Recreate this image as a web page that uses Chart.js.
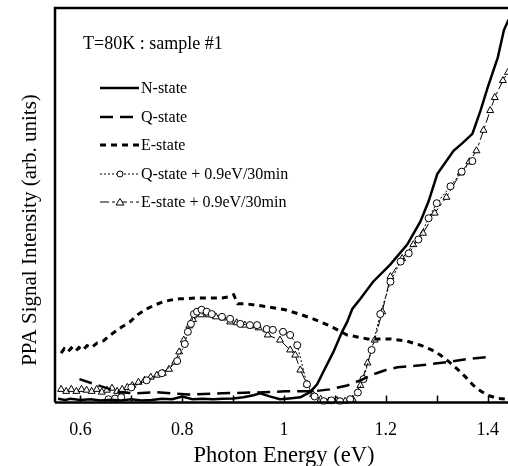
<!DOCTYPE html>
<html>
<head>
<meta charset="utf-8">
<script src="https://cdn.jsdelivr.net/npm/chart.js@4/dist/chart.umd.min.js"></script>
<style>
html,body{margin:0;padding:0;background:#fff;}
#c{display:block;}
</style>
</head>
<body>
<canvas id="c" width="508" height="466"></canvas>
<script>
// ---- data ----
const xTickValues = [0.6, 0.7, 0.8, 0.9, 1.0, 1.1, 1.2, 1.3, 1.4];
const xTickLabels = {"0.6":"0.6","0.8":"0.8","1":"1","1.2":"1.2","1.4":"1.4"};
const seriesNames = ["N-state","Q-state","E-state","Q-state + 0.9eV/30min","E-state + 0.9eV/30min"];

const nStateE = [0.556,0.57,0.58,0.60,0.62,0.64,0.66,0.68,0.70,0.72,0.74,0.76,0.78,0.80,0.82,0.84,0.86,0.88,0.90,0.92,0.94,0.953,0.97,0.992,1.01,1.032,1.051,1.065,1.077,1.097,1.114,1.124,1.134,1.150,1.175,1.209,1.242,1.268,1.284,1.301,1.333,1.351,1.370,1.386,1.400,1.420,1.432,1.441];
const nStateV = [0.9,0.6,0.9,0.6,0.8,0.5,0.7,0.5,0.8,0.5,0.6,0.9,0.8,1.5,0.8,0.9,0.8,0.9,1.0,1.3,1.8,2.3,1.6,0.8,1.0,1.3,2.6,4.6,7.7,12.8,17.9,20.4,23.7,26.3,30.6,35.0,40.0,45.9,51.0,57.9,63.8,65.8,68.1,74.0,79.8,87.5,94.4,97.0];

const qStateE = [0.598,0.647,0.677,0.706,0.746,0.811,0.878,0.94,1.002,1.057,1.09,1.124,1.150,1.175,1.200,1.223,1.268,1.321,1.361,1.400];
const qStateV = [5.9,3.8,2.6,2.3,2.6,2.0,2.3,2.5,2.8,2.8,3.3,4.3,5.6,7.1,8.2,8.9,9.4,10.2,11.0,11.5];

const eStateE = [0.562,0.568,0.575,0.582,0.590,0.597,0.605,0.613,0.622,0.633,0.645,0.661,0.681,0.697,0.712,0.730,0.746,0.762,0.779,0.795,0.811,0.828,0.844,0.861,0.878,0.894,0.901,0.909,0.925,0.943,0.970,1.002,1.030,1.057,1.090,1.124,1.164,1.190,1.209,1.240,1.268,1.290,1.307,1.325,1.341,1.357,1.372,1.387,1.400,1.420,1.439];
const eStateV = [12.5,13.6,12.8,13.8,12.9,13.9,13.2,14.4,13.9,15.1,15.6,17.3,19.1,20.4,22.2,23.7,24.7,25.5,26.0,26.3,26.3,26.5,26.5,26.5,26.5,26.8,27.3,25.0,25.0,24.7,24.2,23.5,22.4,21.2,19.4,17.1,16.1,16.1,16.1,15.6,14.5,13.3,12.0,10.2,8.4,6.4,4.3,2.8,1.8,1.0,0.8];

const qPlusE = [0.655,0.668,0.680,0.700,0.730,0.760,0.790,0.805,0.811,0.817,0.823,0.829,0.838,0.848,0.858,0.878,0.894,0.914,0.933,0.947,0.966,0.978,0.998,1.012,1.026,1.045,1.060,1.078,1.093,1.110,1.130,1.145,1.156,1.172,1.189,1.209,1.229,1.245,1.264,1.284,1.300,1.327,1.349,1.370];
const qPlusV = [0.8,1.0,1.3,3.8,5.6,7.4,10.5,14.8,17.9,19.9,22.4,23.0,23.5,23.0,22.4,21.7,21.2,19.9,19.6,19.6,18.6,18.4,17.9,17.1,14.5,4.6,1.5,0.3,0.5,0.3,0.8,2.5,5.9,13.3,22.4,30.6,35.7,37.8,41.3,46.7,50.5,54.8,58.5,61.2];

const ePlusE = [0.562,0.572,0.582,0.592,0.602,0.612,0.622,0.632,0.642,0.652,0.662,0.672,0.682,0.692,0.702,0.714,0.726,0.738,0.750,0.762,0.774,0.786,0.794,0.803,0.814,0.821,0.837,0.852,0.866,0.880,0.894,0.907,0.923,0.935,0.950,0.968,0.992,1.012,1.022,1.032,1.045,1.057,1.072,1.088,1.104,1.120,1.135,1.150,1.164,1.178,1.193,1.209,1.232,1.254,1.273,1.296,1.319,1.347,1.364,1.378,1.392,1.405,1.414,1.430,1.440];
const ePlusV = [3.3,2.8,3.3,2.8,3.3,3.1,2.8,3.3,2.6,3.1,3.6,2.8,3.3,3.8,4.3,5.1,5.6,6.4,6.9,7.4,8.4,10.2,12.8,15.8,19.4,21.0,22.2,22.2,21.7,21.4,20.4,20.2,19.6,19.4,18.9,17.1,15.8,13.3,12.0,8.2,4.6,2.0,0.8,0.3,0.5,0.3,0.8,4.3,10.0,15.8,23.0,31.9,36.5,40.0,42.9,48.0,52.0,58.2,61.0,63.8,69.0,74.0,77.3,81.6,83.7];

function pts(xs, ys){ return xs.map((x,i)=>({x:x, y:ys[i]})); }

const FONT = "'Liberation Serif','Times New Roman',serif";

const styles = [
  {dash:[], width:2.5, marker:null},
  {dash:[13,7], width:2.5, marker:null},
  {dash:[6,5], width:3, marker:null},
  {dash:[2,2], width:1, marker:'circle'},
  {dash:[9,3,3,3], width:1, marker:'triangle'}
];

const overlay = {
  id:'overlay',
  afterDatasetsDraw(chart){
    const ctx = chart.ctx, a = chart.chartArea, xs = chart.scales.x;
    ctx.save();
    // frame
    ctx.strokeStyle = '#000';
    ctx.lineWidth = 2.5;
    ctx.setLineDash([]);
    ctx.beginPath();
    ctx.moveTo(a.left, a.bottom);
    ctx.lineTo(a.left, a.top);
    ctx.lineTo(a.right, a.top);
    ctx.moveTo(a.left, a.bottom);
    ctx.lineTo(a.right, a.bottom);
    ctx.stroke();
    // inward ticks
    ctx.lineWidth = 1.5;
    ctx.beginPath();
    xTickValues.forEach(v=>{
      const px = Math.round(xs.getPixelForValue(v))+0.5;
      ctx.moveTo(px, a.bottom);
      ctx.lineTo(px, a.bottom-7);
    });
    ctx.stroke();
    // annotation
    ctx.fillStyle = '#000';
    ctx.textBaseline = 'middle';
    ctx.textAlign = 'left';
    ctx.font = '18px ' + FONT;
    ctx.fillText('T=80K : sample #1', 83, 44);
    // legend
    ctx.font = '16px ' + FONT;
    const rows = [88,117,145,174,202];
    rows.forEach((y,i)=>{
      const s = styles[i];
      ctx.lineWidth = s.width;
      ctx.setLineDash(s.dash);
      ctx.beginPath();
      ctx.moveTo(100, y); ctx.lineTo(139, y);
      ctx.stroke();
      ctx.setLineDash([]);
      if (s.marker){
        ctx.lineWidth = 1;
        ctx.fillStyle = '#fff';
        ctx.beginPath();
        if (s.marker==='circle'){ ctx.arc(120, y, 3, 0, Math.PI*2); }
        else { ctx.moveTo(120, y-3.5); ctx.lineTo(124, y+3); ctx.lineTo(116, y+3); ctx.closePath(); }
        ctx.fill(); ctx.stroke();
        ctx.fillStyle = '#000';
      }
      ctx.fillText(seriesNames[i], 141, y+1);
    });
    // axis titles
    ctx.font = '22.5px ' + FONT;
    ctx.textAlign = 'center';
    ctx.fillText('Photon Energy (eV)', 284, 456);
    ctx.save();
    ctx.translate(30, 230);
    ctx.rotate(-Math.PI/2);
    ctx.font = '21px ' + FONT;
    ctx.fillText('PPA Signal Intensity (arb. units)', 0, 0);
    ctx.restore();
    ctx.restore();
  }
};

const series = [pts(nStateE,nStateV), pts(qStateE,qStateV), pts(eStateE,eStateV), pts(qPlusE,qPlusV), pts(ePlusE,ePlusV)];

new Chart(document.getElementById('c'), {
  type:'line',
  data:{
    datasets: series.map((d,i)=>({
      label: seriesNames[i],
      data: d,
      borderColor:'#000',
      backgroundColor:'#fff',
      borderWidth: styles[i].width,
      borderDash: styles[i].dash,
      tension:0,
      fill:false,
      pointStyle: styles[i].marker || 'circle',
      pointRadius: styles[i].marker ? (styles[i].marker==='triangle'?4:3.5) : 0,
      pointBorderWidth: 1,
      pointBorderColor:'#000',
      pointBackgroundColor:'#fff',
      clip: 2
    }))
  },
  options:{
    responsive:false,
    animation:false,
    devicePixelRatio:1,
    layout:{autoPadding:false, padding:{left:55, top:8, right:0, bottom:22}},
    plugins:{legend:{display:false}, tooltip:{enabled:false}},
    scales:{
      x:{
        type:'linear', min:0.55, max:1.44,
        afterBuildTicks(scale){ scale.ticks = xTickValues.map(v=>({value:v})); },
        afterFit(scale){ scale.paddingRight = 0; scale.paddingLeft = 0; },
        grid:{display:true, drawOnChartArea:false, drawTicks:true, tickLength:14, color:'rgba(0,0,0,0)'},
        border:{display:false},
        ticks:{
          autoSkip:false, maxRotation:0, padding:3,
          color:'#000',
          font:{family:FONT, size:18},
          callback(v){ const k = String(Math.round(v*10)/10); return xTickLabels[k] || ''; }
        }
      },
      y:{
        type:'linear', min:0, max:100, display:false
      }
    }
  },
  plugins:[overlay]
});
</script>
</body>
</html>
